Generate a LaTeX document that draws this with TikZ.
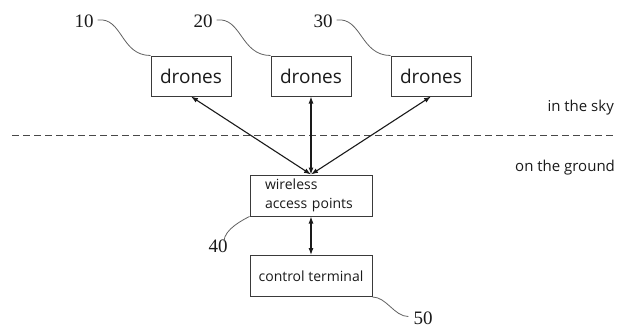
\documentclass[tikz,border=0pt]{standalone}
\usepackage{fontspec}
\setmainfont{Liberation Serif}
\newfontfamily\boxfont{Open Sans}
\usetikzlibrary{arrows.meta}
\definecolor{ink}{HTML}{1A1A1A}
\definecolor{edge}{HTML}{3A3A3A}
\tikzset{
  dronebox/.style={draw=edge, line width=1pt, minimum width=80pt, minimum height=40pt, inner sep=0pt, font=\boxfont\fontsize{19}{22}\selectfont, text=ink},
  gbox/.style={draw=edge, line width=1pt, minimum width=122pt, minimum height=41pt, inner sep=0pt, font=\boxfont\fontsize{14}{19}\selectfont, text=ink},
  refnum/.style={font=\fontsize{19}{22}\selectfont, text=ink, inner sep=0pt},
  sidetext/.style={font=\boxfont\fontsize{15}{18}\selectfont, text=ink, inner sep=0pt},
  leader/.style={draw=edge!80, line width=0.8pt},
  link/.style={draw=ink, line width=1.1pt, {Latex[length=7pt,width=5pt]}-{Latex[length=7pt,width=5pt]}},
  sep/.style={draw=ink!80, line width=0.9pt, dash pattern=on 7pt off 4pt}
}
\begin{document}
\begin{tikzpicture}[x=1pt,y=-1pt]
\useasboundingbox (0,0) rectangle (617,329);
% drone boxes
\node[dronebox] (d1) at (191,76) {drones};
\node[dronebox] (d2) at (311,76) {drones};
\node[dronebox] (d3) at (431,76) {drones};
% ground boxes
\node[gbox, align=left, text width=92pt, inner xsep=15pt] (wap) at (311,195.5) {wireless\\access points};
\node[gbox] (ct) at (311,276) {control terminal};
% reference numbers
\node[refnum] (l10) at (84,21) {10};
\node[refnum] (l20) at (203,21) {20};
\node[refnum] (l30) at (323,21) {30};
\node[refnum] (l40) at (218,246) {40};
\node[refnum] (l50) at (423,318.5) {50};
% leader curves
\draw[leader] (l10.east) ++(4,-1) coordinate (s10) .. controls +(25,-3) and +(-30,0) .. (d1.north west);
\draw[leader] (l20.east) ++(4,-1) coordinate (s20) .. controls +(25,-3) and +(-30,0) .. (d2.north west);
\draw[leader] (l30.east) ++(4,-1) coordinate (s30) .. controls +(25,-3) and +(-30,0) .. (d3.north west);
\draw[leader] (wap.south west) .. controls +(-6,3) and +(0,-12) .. ([xshift=6pt,yshift=-2pt]l40.north);
\draw[leader] (ct.south east) .. controls +(14,0) and +(-14,0) .. ([xshift=-5pt,yshift=2pt]l50.west);
% separator
\coordinate (dl) at (12,135);
\coordinate (dr) at (617,135);
\draw[sep] (dl) -- (dr);
\node[sidetext, anchor=east] (sky) at (614,108) {in the sky};
\node[sidetext, anchor=west] (ground) at (515,168) {on the ground};
% links
\draw[link] (wap.north) -- (d1.south);
\draw[link] (wap.north) -- (d2.south);
\draw[link] (wap.north) -- (d3.south);
\draw[link] (wap.south) -- (ct.north);
\end{tikzpicture}
\end{document}
